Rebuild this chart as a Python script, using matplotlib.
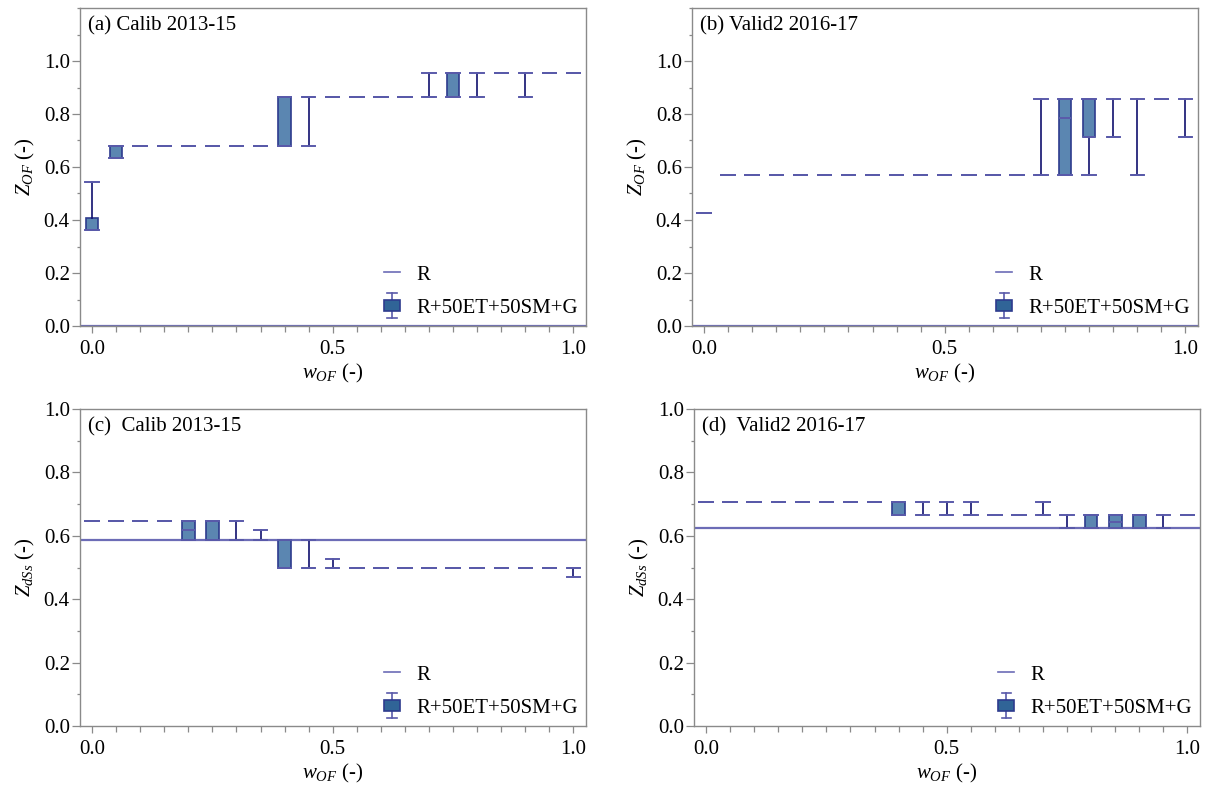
import numpy as np
import matplotlib
matplotlib.use("Agg")
import matplotlib.pyplot as plt
from matplotlib.legend_handler import HandlerBase
from matplotlib.lines import Line2D
from matplotlib.patches import Rectangle
from matplotlib.ticker import MultipleLocator

plt.rcParams["font.family"] = ["Liberation Serif", "DejaVu Serif"]
plt.rcParams["mathtext.fontset"] = "custom"
plt.rcParams["mathtext.rm"] = "Liberation Serif"
plt.rcParams["mathtext.it"] = "Liberation Serif:italic"
plt.rcParams["font.size"] = 15

# Objective-function weight w_OF
w_of = [0.00, 0.05, 0.10, 0.15, 0.20, 0.25, 0.30, 0.35, 0.40, 0.45, 0.50,
        0.55, 0.60, 0.65, 0.70, 0.75, 0.80, 0.85, 0.90, 0.95, 1.00]

# (a) Z_OF, calibration 2013-15 : whisker low, Q1, median, Q3, whisker high
a_lo  = [0.363, 0.635] + [0.680] * 7 + [0.680] + [0.863] * 4 + [0.863, 0.863, 0.863, 0.954, 0.863, 0.954, 0.954]
a_q1  = [0.363, 0.635] + [0.680] * 7 + [0.863] + [0.863] * 4 + [0.863, 0.863, 0.863, 0.954, 0.863, 0.954, 0.954]
a_med = [0.363, 0.635] + [0.680] * 7 + [0.863] + [0.863] * 4 + [0.863, 0.863, 0.863, 0.954, 0.863, 0.954, 0.954]
a_q3  = [0.408, 0.680] + [0.680] * 6 + [0.863, 0.863] + [0.863] * 4 + [0.863, 0.954, 0.863, 0.954, 0.863, 0.954, 0.954]
a_hi  = [0.544, 0.680] + [0.680] * 6 + [0.863, 0.863] + [0.863] * 4 + [0.954, 0.954, 0.954, 0.954, 0.954, 0.954, 0.954]

# (b) Z_OF, validation 2016-17
b_lo  = [0.427] + [0.571] * 13 + [0.571, 0.571, 0.571, 0.714, 0.571, 0.858, 0.714]
b_q1  = [0.427] + [0.571] * 13 + [0.571, 0.571, 0.714, 0.714, 0.571, 0.858, 0.714]
b_med = [0.427] + [0.571] * 13 + [0.571, 0.786, 0.714, 0.714, 0.571, 0.858, 0.714]
b_q3  = [0.427] + [0.571] * 13 + [0.571, 0.858, 0.858, 0.714, 0.571, 0.858, 0.714]
b_hi  = [0.427] + [0.571] * 13 + [0.858, 0.858, 0.858, 0.858, 0.858, 0.858, 0.858]

# (c) Z_dSs, calibration 2013-15
c_lo  = [0.646] * 4 + [0.587, 0.587, 0.587, 0.587, 0.498, 0.498, 0.498] + [0.498] * 9 + [0.469]
c_q1  = [0.646] * 4 + [0.587, 0.587, 0.587, 0.587, 0.498, 0.498, 0.498] + [0.498] * 9 + [0.498]
c_med = [0.646] * 4 + [0.617, 0.587, 0.587, 0.587, 0.498, 0.498, 0.498] + [0.498] * 9 + [0.498]
c_q3  = [0.646] * 4 + [0.646, 0.646, 0.587, 0.587, 0.587, 0.498, 0.498] + [0.498] * 9 + [0.498]
c_hi  = [0.646] * 4 + [0.646, 0.646, 0.646, 0.617, 0.587, 0.587, 0.528] + [0.498] * 9 + [0.498]

# (d) Z_dSs, validation 2016-17
d_lo  = [0.708] * 8 + [0.666, 0.666, 0.666, 0.666, 0.666, 0.666, 0.666, 0.624, 0.624, 0.624, 0.624, 0.624, 0.666]
d_q1  = [0.708] * 8 + [0.666, 0.666, 0.666, 0.666, 0.666, 0.666, 0.666, 0.624, 0.624, 0.624, 0.624, 0.624, 0.666]
d_med = [0.708] * 8 + [0.666, 0.666, 0.666, 0.666, 0.666, 0.666, 0.666, 0.624, 0.624, 0.644, 0.624, 0.624, 0.666]
d_q3  = [0.708] * 8 + [0.708, 0.666, 0.666, 0.666, 0.666, 0.666, 0.666, 0.624, 0.666, 0.666, 0.666, 0.624, 0.666]
d_hi  = [0.708] * 8 + [0.708, 0.708, 0.708, 0.708, 0.666, 0.666, 0.708, 0.666, 0.666, 0.666, 0.666, 0.666, 0.666]

# Reference model "R" value per panel
r_values = [0.0, 0.0, 0.587, 0.624]

titles = ["(a) Calib 2013-15", "(b) Valid2 2016-17", "(c)  Calib 2013-15", "(d)  Valid2 2016-17"]
ylabels = ["$Z_{OF}$ (-)", "$Z_{OF}$ (-)", "$Z_{dSs}$ (-)", "$Z_{dSs}$ (-)"]
series_labels = ["R", "R+50ET+50SM+G"]

BOX_FACE = "#5b86b1"
BOX_EDGE = "#2d3b8e"
WHISK = "#10106e"
CAPC = "#5a5aaa"
R_COLOR = "#6c6cb6"
SPINE = "#8a8a8a"


class BoxKey:
    pass


class HandlerBoxKey(HandlerBase):
    def create_artists(self, legend, orig_handle, xdescent, ydescent,
                       width, height, fontsize, trans):
        cx = -xdescent + width / 2.0
        cy = -ydescent + height / 2.0
        bw, bh = width * 0.98, height * 0.72
        wl = height * 0.85
        cw = width * 0.55
        whisker = Line2D([cx, cx], [cy - wl, cy + wl], color=CAPC, lw=1.2, transform=trans)
        cap_lo = Line2D([cx - cw / 2, cx + cw / 2], [cy - wl, cy - wl], color=CAPC, lw=1.2, transform=trans)
        cap_hi = Line2D([cx - cw / 2, cx + cw / 2], [cy + wl, cy + wl], color=CAPC, lw=1.2, transform=trans)
        box = Rectangle((cx - bw / 2, cy - bh / 2), bw, bh, facecolor="#306497",
                        edgecolor=BOX_EDGE, lw=1.2, transform=trans)
        return [whisker, cap_lo, cap_hi, box]


panels = [
    (a_lo, a_q1, a_med, a_q3, a_hi),
    (b_lo, b_q1, b_med, b_q3, b_hi),
    (c_lo, c_q1, c_med, c_q3, c_hi),
    (d_lo, d_q1, d_med, d_q3, d_hi),
]
ylims = [1.2, 1.2, 1.0, 1.0]

W, H = 1205, 786
fig = plt.figure(figsize=(W / 100, H / 100), dpi=100)
rects_px = [(80, 8, 506, 318), (692, 8, 506, 318), (80, 409, 506, 317), (694, 409, 506, 317)]

for i, (stats, rp) in enumerate(zip(panels, rects_px)):
    l, t, w, h = rp
    ax = fig.add_axes([l / W, 1 - (t + h) / H, w / W, h / H])
    lo, q1, med, q3, hi = stats
    bxp_stats = [dict(whislo=lo[k], q1=q1[k], med=med[k], q3=q3[k], whishi=hi[k])
                 for k in range(len(w_of))]
    ax.axhline(r_values[i], color=R_COLOR, lw=1.6, zorder=1)
    ax.bxp(bxp_stats, positions=w_of, widths=0.026, capwidths=0.028,
           showfliers=False, patch_artist=True, manage_ticks=False,
           boxprops=dict(facecolor=BOX_FACE, edgecolor=BOX_EDGE, lw=1.2),
           whiskerprops=dict(color=WHISK, lw=1.2),
           capprops=dict(color=CAPC, lw=1.4),
           medianprops=dict(color=CAPC, lw=1.4))
    ax.set_xlim(-0.025, 1.026)
    ax.set_ylim(0, ylims[i])
    ax.xaxis.set_major_locator(MultipleLocator(0.5))
    ax.xaxis.set_minor_locator(MultipleLocator(0.05))
    ax.yaxis.set_major_locator(MultipleLocator(0.2))
    ax.yaxis.set_minor_locator(MultipleLocator(0.1))
    ax.set_xticks([0.0, 0.5, 1.0])
    ax.set_xticklabels(["0.0", "0.5", "1.0"])
    ax.set_yticks(np.arange(0, ylims[i] + 0.001, 0.2)[:6])
    ax.set_yticklabels([f"{v:.1f}" for v in np.arange(0, 1.001, 0.2)])
    ax.tick_params(axis="x", which="major", length=5.2, width=0.9, color=SPINE, pad=5)
    ax.tick_params(axis="x", which="minor", length=4.3, width=0.9, color=SPINE)
    ax.tick_params(axis="y", which="major", length=5.8, width=0.9, color=SPINE, pad=1.5)
    ax.tick_params(axis="y", which="minor", length=2.5, width=0.9, color=SPINE)
    for s in ax.spines.values():
        s.set_color(SPINE)
        s.set_linewidth(1.0)
    ax.set_xlabel("$w_{OF}$ (-)", labelpad=2)
    ax.set_ylabel(ylabels[i], labelpad=5)
    ax.text(0.016, 0.975, titles[i], transform=ax.transAxes, ha="left", va="top")

    r_key = Line2D([], [], color=R_COLOR, lw=1.2)
    box_key = BoxKey()
    ax.legend([r_key, box_key], series_labels, handler_map={BoxKey: HandlerBoxKey()},
              loc="lower right", frameon=False, handlelength=0.8, handletextpad=0.75,
              labelspacing=0.65, borderpad=0.0, borderaxespad=0.4)

fig.savefig("out.png", dpi=100)
